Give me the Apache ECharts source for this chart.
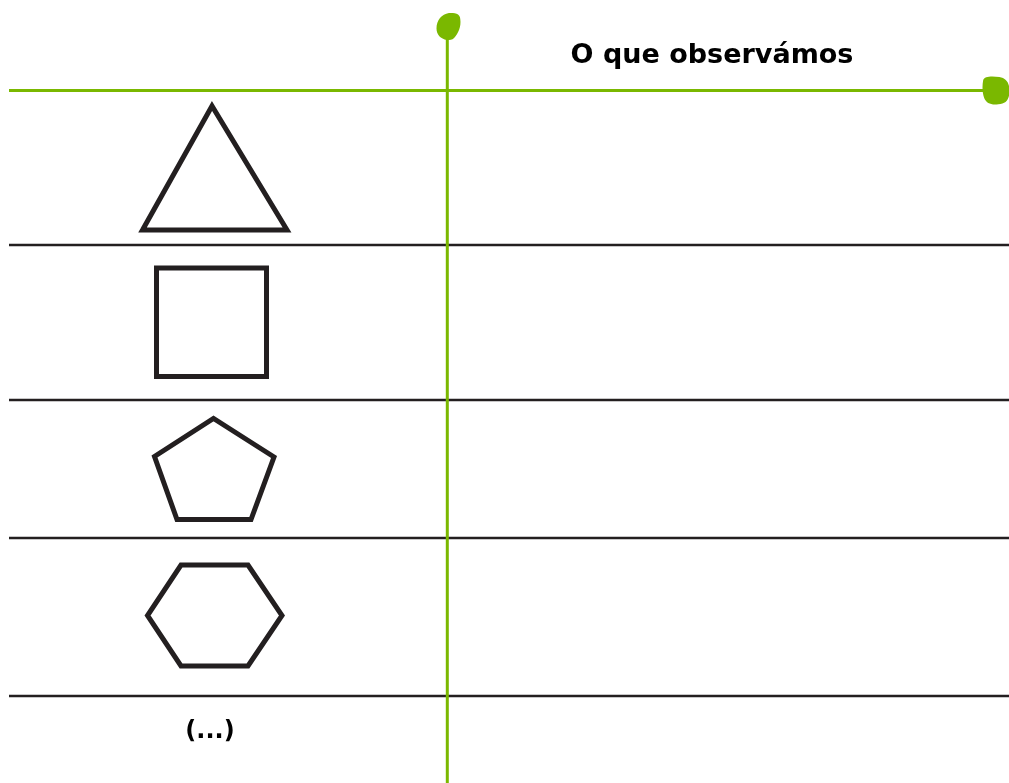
<!DOCTYPE html>
<html>
<head>
<meta charset="utf-8">
<script src="https://cdn.jsdelivr.net/npm/echarts@6/dist/echarts.min.js"></script>
<style>
html,body{margin:0;padding:0;background:#fff;}
#chart{width:1009px;height:783px;}
</style>
</head>
<body>
<div id="chart"></div>
<script>
// ---- content / data ----
const headerText = 'O que observámos';
const lastRowText = '(...)';
const shapeNames = ['triângulo', 'quadrado', 'pentágono', 'hexágono'];
// shape outlines (vertex lists in the page's coordinate space)
const triangle = [[212, 106], [142.5, 230], [287, 230]];
const square = [[156.5, 268], [266.5, 268], [266.5, 376.5], [156.5, 376.5]];
const pentagon = [[213.5, 418.5], [274, 457], [251, 519.5], [177, 519.5], [154.5, 456.5]];
const hexagon = [[181, 565], [248, 565], [282, 615.5], [248, 666], [181, 666], [147.5, 615.5]];
// table rule positions
const headerRuleY = 90.5;
const rowRulesY = [245, 400, 538, 696];
const columnRuleX = 447.3;
// leaf positions
const topLeaf = [448.5, 26.5];
const rightLeaf = [996, 90.5];

const GREEN = '#7ab800';
const BLACK = '#231f20';
const FONT = "'DejaVu Sans', Verdana, sans-serif";

// close a polygon, repeating the second vertex so the first corner gets a proper join
function closed(pts) { return pts.concat([pts[0], pts[1]]); }

const series = [];
function seg(data, color, width, z) {
  series.push({
    type: 'line', data: data, showSymbol: false, silent: true, animation: false,
    lineStyle: { color: color, width: width, cap: 'butt', join: 'miter', opacity: 1 }, z: z || 2
  });
}
// header rule
seg([[9, headerRuleY], [990, headerRuleY]], GREEN, 3, 3);
// row rules
rowRulesY.forEach(y => seg([[9, y], [1009, y]], BLACK, 2.6, 2));
// column rule
seg([[columnRuleX, 33], [columnRuleX, 783]], GREEN, 3, 4);
// shapes
[triangle, square, pentagon, hexagon].forEach(p => seg(closed(p), BLACK, 5, 2));

// leaves
series.push({
  type: 'scatter', silent: true, animation: false, z: 5,
  data: [topLeaf],
  symbol: 'path://M10 26 C4 25 0 21 0 15 C0 7 5 1 12 0 C17 0 23 0 23 6 C24 13 21 20 17 24 C15 26 13 26 10 26 Z',
  symbolSize: [24, 27], symbolKeepAspect: false,
  itemStyle: { color: GREEN, opacity: 1 }
});
series.push({
  type: 'scatter', silent: true, animation: false, z: 5,
  data: [rightLeaf],
  symbol: 'path://M1 4 C2 0 10 0 17 1 C24 2 27 7 27 14 C27 22 24 27 16 27 C9 28 4 26 2 21 C0 16 0 9 1 4 Z',
  symbolSize: [27, 28], symbolKeepAspect: false,
  itemStyle: { color: GREEN, opacity: 1 }
});
// texts placed through the axes
const labelBase = { show: true, position: 'inside', color: '#000000', fontWeight: 'bold', fontFamily: FONT, textBorderWidth: 0, opacity: 1 };
series.push({
  type: 'scatter', silent: true, animation: false, z: 6,
  symbolSize: 0, itemStyle: { opacity: 1, color: '#000000' },
  data: [
    { value: [712, 56], label: Object.assign({}, labelBase, { formatter: headerText, fontSize: 27 }) },
    { value: [210, 732], label: Object.assign({}, labelBase, { formatter: lastRowText, fontSize: 24 }) }
  ],
  label: labelBase
});

const chart = echarts.init(document.getElementById('chart'), null, { renderer: 'canvas' });
chart.setOption({
  backgroundColor: '#ffffff',
  animation: false,
  grid: { left: 0, right: 0, top: 0, bottom: 0, containLabel: false },
  xAxis: { type: 'value', min: 0, max: 1009, show: false },
  yAxis: { type: 'value', min: 0, max: 783, inverse: true, show: false },
  series: series
});
</script>
</body>
</html>
